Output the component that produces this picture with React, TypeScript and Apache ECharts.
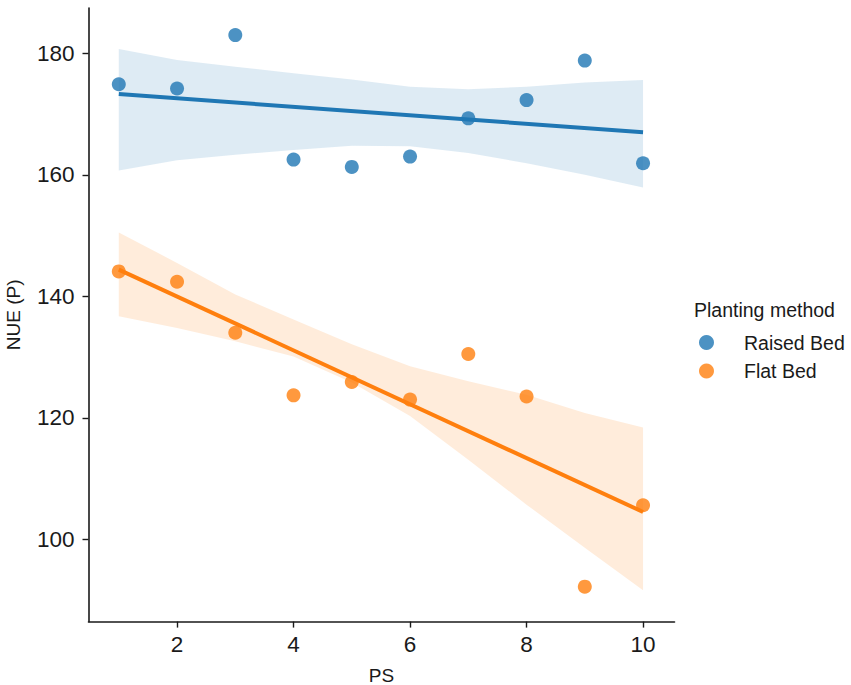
import React, { useEffect, useRef } from "react";
import * as echarts from "echarts";

const psValues = [1, 2, 3, 4, 5, 6, 7, 8, 9, 10];
const raisedBed = [174.9, 174.2, 183.0, 162.5, 161.3, 163.0, 169.3, 172.3, 178.8, 161.9];
const flatBed = [144.1, 142.4, 134.0, 123.7, 125.9, 123.0, 130.5, 123.5, 92.2, 105.6];

// regression line end points (x = 1 and x = 10)
const fitX = [1, 10];
const raisedFit = [173.3, 167.0];
const flatFit = [144.4, 104.5];

// confidence band bounds read at each PS value
const raisedUpper = [180.7, 178.9, 177.8, 176.7, 175.7, 174.5, 174.1, 174.5, 175.2, 175.6];
const raisedLower = [160.7, 162.4, 163.3, 164.1, 164.8, 164.7, 163.6, 161.9, 160.0, 157.9];
const flatUpper = [150.5, 145.5, 140.3, 136.2, 132.1, 128.5, 126.0, 123.8, 120.8, 118.4];
const flatLower = [136.7, 134.8, 132.6, 130.1, 125.8, 120.3, 113.1, 105.7, 98.6, 91.6];

const xTicks = [2, 4, 6, 8, 10];
const yTicks = [100, 120, 140, 160, 180];

const BLUE = "#1f77b4";
const ORANGE = "#ff7f0e";
const FONT = "'Liberation Sans', Arial, sans-serif";
const INK = "#1a1a1a";

function bandSeries(name: string, upper: number[], lower: number[], fill: string) {
  return {
    name,
    type: "custom",
    z: 1,
    silent: true,
    data: psValues.map((x, i) => [x, lower[i], upper[i]]),
    encode: { x: 0, y: [1, 2] },
    renderItem: (params: any, api: any) => {
      if (params.dataIndex !== 0) return null;
      const top = psValues.map((x, i) => api.coord([x, upper[i]]));
      const bottom = psValues
        .map((x, i) => api.coord([x, lower[i]]))
        .reverse();
      return {
        type: "polygon",
        shape: { points: top.concat(bottom) },
        style: { fill, stroke: "none" },
      };
    },
  };
}

export default function App() {
  const ref = useRef<HTMLDivElement>(null);
  useEffect(() => {
    document.body.style.margin = "0";
    const chart = echarts.init(ref.current!, null, { renderer: "svg" });
    const option: any = {
      animation: false,
      backgroundColor: "#ffffff",
      textStyle: { fontFamily: FONT },
      grid: {
        left: 88.5,
        top: 8,
        right: 176.5,
        bottom: 63.4,
        containLabel: false,
        outerBoundsMode: "none",
      },
      xAxis: {
        type: "value",
        min: 0.48,
        max: 10.54,
        name: "PS",
        nameLocation: "middle",
        nameGap: 44,
        nameTextStyle: { fontSize: 19, color: INK, fontFamily: FONT },
        splitLine: { show: false },
        axisLine: { show: true, onZero: false, lineStyle: { color: INK, width: 1.6 } },
        axisTick: { show: true, length: 6, lineStyle: { color: INK, width: 1.4 }, customValues: xTicks },
        axisLabel: { fontSize: 22.5, color: INK, margin: 11, fontFamily: FONT, customValues: xTicks },
      },
      yAxis: {
        type: "value",
        min: 86.45,
        max: 187.46,
        name: "NUE (P)",
        nameLocation: "middle",
        nameRotate: 90,
        nameGap: 66,
        nameTextStyle: { fontSize: 19, color: INK, fontFamily: FONT },
        splitLine: { show: false },
        axisLine: { show: true, onZero: false, lineStyle: { color: INK, width: 1.6 } },
        axisTick: { show: true, length: 6, lineStyle: { color: INK, width: 1.4 }, customValues: yTicks },
        axisLabel: { fontSize: 22.5, color: INK, margin: 14, fontFamily: FONT, customValues: yTicks },
      },
      legend: {
        data: ["Raised Bed", "Flat Bed"],
        orient: "vertical",
        left: 694,
        top: 327.5,
        itemWidth: 15,
        itemHeight: 15,
        itemGap: 8.6,
        icon: "circle",
        textStyle: { fontSize: 19.5, color: INK, fontFamily: FONT, padding: [0, 0, 0, 25] },
      },
      graphic: [
        {
          type: "text",
          left: 694,
          top: 300,
          style: { text: "Planting method", font: `19.5px ${FONT}`, fill: INK },
        },
      ],
      series: [
        bandSeries("Raised band", raisedUpper, raisedLower, "rgba(31,119,180,0.15)"),
        bandSeries("Flat band", flatUpper, flatLower, "rgba(255,127,14,0.15)"),
        {
          name: "Raised Bed",
          type: "scatter",
          z: 3,
          symbolSize: 14,
          itemStyle: { color: BLUE, opacity: 0.8 },
          data: psValues.map((x, i) => [x, raisedBed[i]]),
        },
        {
          name: "Flat Bed",
          type: "scatter",
          z: 3,
          symbolSize: 14,
          itemStyle: { color: ORANGE, opacity: 0.8 },
          data: psValues.map((x, i) => [x, flatBed[i]]),
        },
        {
          name: "Raised fit",
          type: "line",
          z: 4,
          showSymbol: false,
          symbol: "none",
          lineStyle: { color: BLUE, width: 4 },
          data: fitX.map((x, i) => [x, raisedFit[i]]),
        },
        {
          name: "Flat fit",
          type: "line",
          z: 4,
          showSymbol: false,
          symbol: "none",
          lineStyle: { color: ORANGE, width: 4 },
          data: fitX.map((x, i) => [x, flatFit[i]]),
        },
      ],
    };
    chart.setOption(option);
    return () => chart.dispose();
  }, []);
  return (
    <div
      ref={ref}
      style={{ width: 851, height: 685, position: "absolute", left: 0, top: 0 }}
    />
  );
}
